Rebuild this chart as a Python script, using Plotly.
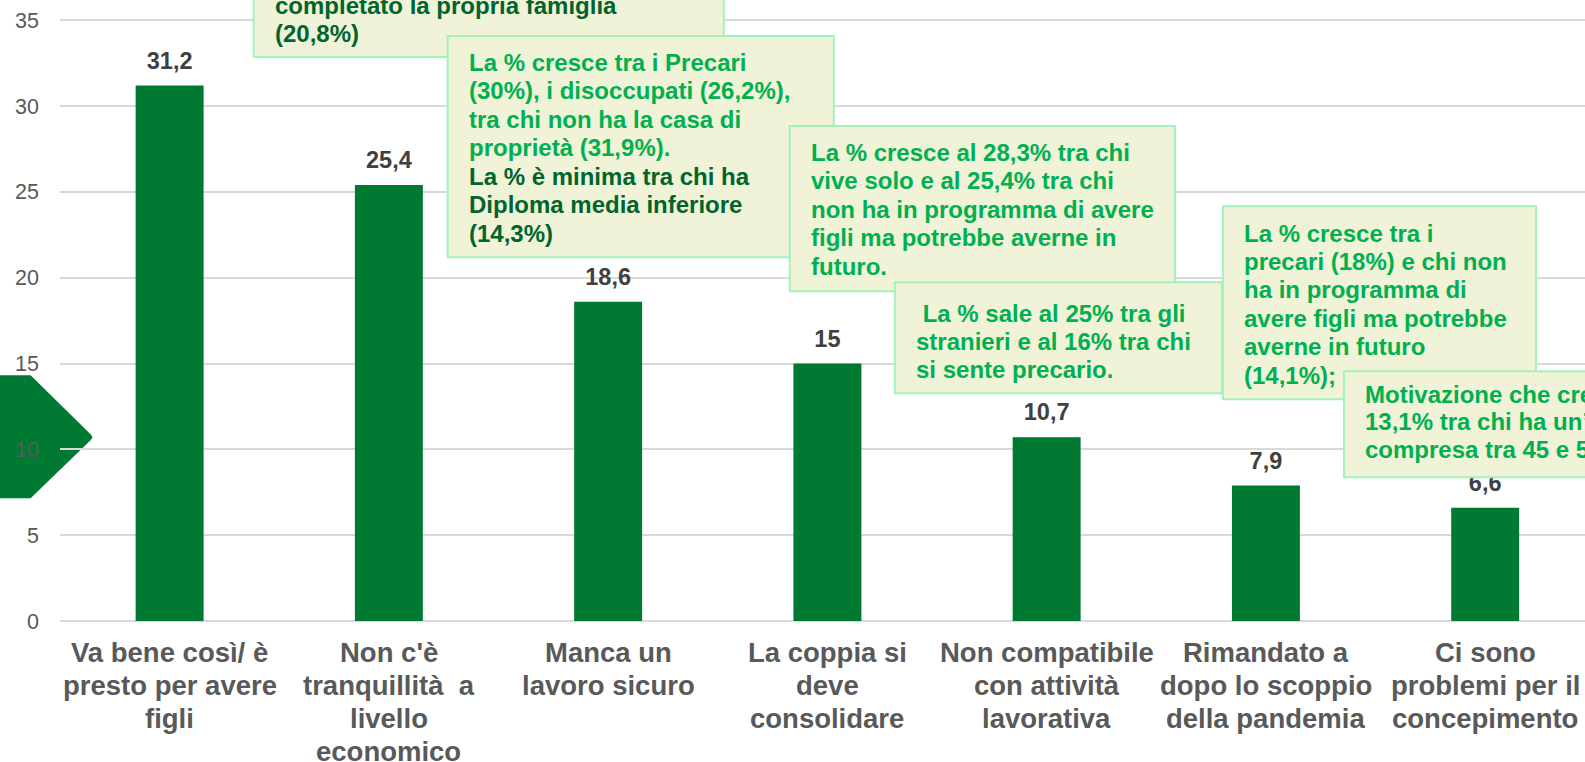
import plotly.graph_objects as go

# ---------------- data ----------------
categories = [
    "Va bene così/ è<br>presto per avere<br>figli",
    "Non c'è<br>tranquillità  a<br>livello<br>economico",
    "Manca un<br>lavoro sicuro",
    "La coppia si<br>deve<br>consolidare",
    "Non compatibile<br>con attività<br>lavorativa",
    "Rimandato a<br>dopo lo scoppio<br>della pandemia",
    "Ci sono<br>problemi per il<br>concepimento",
]
values = [31.2, 25.4, 18.6, 15, 10.7, 7.9, 6.6]
y_ticks = [0, 5, 10, 15, 20, 25, 30, 35]

box_a_lines = ["completato la propria famiglia", "(20,8%)"]
box_b_green = ["La % cresce tra i Precari", "(30%), i disoccupati (26,2%),",
               "tra chi non ha la casa di", "proprietà (31,9%)."]
box_b_dark = ["La % è minima tra chi ha", "Diploma media inferiore", "(14,3%)"]
box_c_lines = ["La % cresce al 28,3% tra chi", "vive solo e al 25,4% tra chi",
               "non ha in programma di avere", "figli ma potrebbe averne in", "futuro."]
box_d_lines = [" La % sale al 25% tra gli", "stranieri e al 16% tra chi", "si sente precario."]
box_e_lines = ["La % cresce tra i", "precari (18%) e chi non", "ha in programma di",
               "avere figli ma potrebbe", "averne in futuro", "(14,1%);"]
box_f_lines = ["Motivazione che cresce al", "13,1% tra chi ha un’età", "compresa tra 45 e 54 anni"]

# ---------------- style ----------------
FIG_W, FIG_H = 1585, 762
M_L, M_R, M_T, M_B = 60.4, 0, 0, 141.4
PW = FIG_W - M_L - M_R
PH = FIG_H - M_T - M_B
PX_PER_UNIT = 17.154
PX_PER_CAT = 219.2

BAR_COLOR = "#007A33"
GRID = "#D9D9D9"
AXIS_TXT = "#595959"
VAL_TXT = "#404040"
BOX_FILL = "#F0F3D7"
BOX_LINE = "#A3F2BC"
GREEN_TXT = "#00B050"
DARK_TXT = "#00642D"
FONT = "Liberation Sans, Arial, sans-serif"
BOX_FONT_SIZE = 24
XLAB_SIZE = 27.5
XLAB_FIRST = 31.0     # px below the axis for first line centre
XLAB_STEP = 33.3      # px between label lines


def px(x):
    return (x - M_L) / PW


def py(y):
    return (FIG_H - M_B - y) / PH


fig = go.Figure()
fig.add_trace(go.Bar(
    x=categories, y=values, marker=dict(color=BAR_COLOR, line=dict(width=0)),
    hoverinfo="skip",
))
fig.add_trace(go.Scatter(
    x=categories, y=values, mode="markers+text",
    marker=dict(size=16, opacity=0, color=BAR_COLOR),
    text=[f"{v:g}".replace(".", ",") for v in values],
    textposition="top center",
    textfont=dict(family=FONT, size=23.5, color=VAL_TXT, weight="bold"),
    cliponaxis=False, hoverinfo="skip",
))

shapes = []
# chevron on the left
chev = [(-6, 375), (31, 375), (91, 434), (93, 437), (91, 440), (31, 498), (-6, 498)]
path = "M " + " L ".join(f"{px(x):.5f},{py(y):.5f}" for x, y in chev) + " Z"
shapes.append(dict(type="path", xref="paper", yref="paper", path=path,
                   fillcolor=BAR_COLOR, line=dict(width=0), layer="below"))

annotations = []

# category labels (one annotation per line, for the original line spacing)
for cat in categories:
    for i, line in enumerate(cat.split("<br>")):
        annotations.append(dict(
            xref="x", yref="y", x=cat, y=0, xanchor="center", yanchor="middle",
            yshift=-(XLAB_FIRST + i * XLAB_STEP), showarrow=False, text=line,
            font=dict(family=FONT, size=XLAB_SIZE, color=AXIS_TXT, weight="bold"),
        ))


def add_box(x0, y0, x1, y1, lines, tx, ty0, dy, color):
    shapes.append(dict(type="rect", xref="paper", yref="paper",
                       x0=px(x0), x1=px(x1), y0=py(y1), y1=py(y0),
                       fillcolor=BOX_FILL, line=dict(color=BOX_LINE, width=2), layer="above"))
    for i, (t, c) in enumerate(zip(lines, color)):
        annotations.append(dict(
            xref="paper", yref="paper", x=px(tx), y=py(ty0 + i * dy),
            xanchor="left", yanchor="middle", showarrow=False, text=t,
            font=dict(family=FONT, size=BOX_FONT_SIZE, color=c, weight="bold"),
        ))


add_box(254, -60, 724, 57, box_a_lines, 273, 5, 28.8, [DARK_TXT] * 2)
add_box(448, 36, 834, 257, box_b_green + box_b_dark, 467, 62.5, 28.4,
        [GREEN_TXT] * len(box_b_green) + [DARK_TXT] * len(box_b_dark))
add_box(790, 126, 1175, 291, box_c_lines, 809, 152, 28.5, [GREEN_TXT] * 5)
add_box(895, 282, 1222, 393, box_d_lines, 914, 313, 28, [GREEN_TXT] * 3)
add_box(1223, 206, 1536, 399, box_e_lines, 1242, 233, 28.4, [GREEN_TXT] * 6)
add_box(1344, 371, 1660, 477, box_f_lines, 1363, 394, 27.5, [GREEN_TXT] * 3)

fig.update_layout(
    width=FIG_W, height=FIG_H,
    margin=dict(l=M_L, r=M_R, t=M_T, b=M_B, pad=0, autoexpand=False),
    template="none",
    paper_bgcolor="white", plot_bgcolor="white",
    showlegend=False, bargap=0.69,
    shapes=shapes, annotations=annotations,
    xaxis=dict(
        range=[-0.5, -0.5 + PW / PX_PER_CAT], showgrid=False, zeroline=False,
        showline=False, ticks="", showticklabels=False,
        fixedrange=True,
    ),
    yaxis=dict(
        range=[0, PH / PX_PER_UNIT], tickvals=y_ticks, showgrid=True,
        gridcolor=GRID, gridwidth=1.5, zeroline=True, zerolinecolor=GRID,
        zerolinewidth=1.5, showline=False, ticks="", ticklabelstandoff=20,
        tickfont=dict(family=FONT, size=21.5, color=AXIS_TXT),
        fixedrange=True,
    ),
)

fig.write_html(
    "out.html",
    config={"displayModeBar": False},
    post_script="document.body.style.margin='0';document.body.style.overflow='hidden';",
)
